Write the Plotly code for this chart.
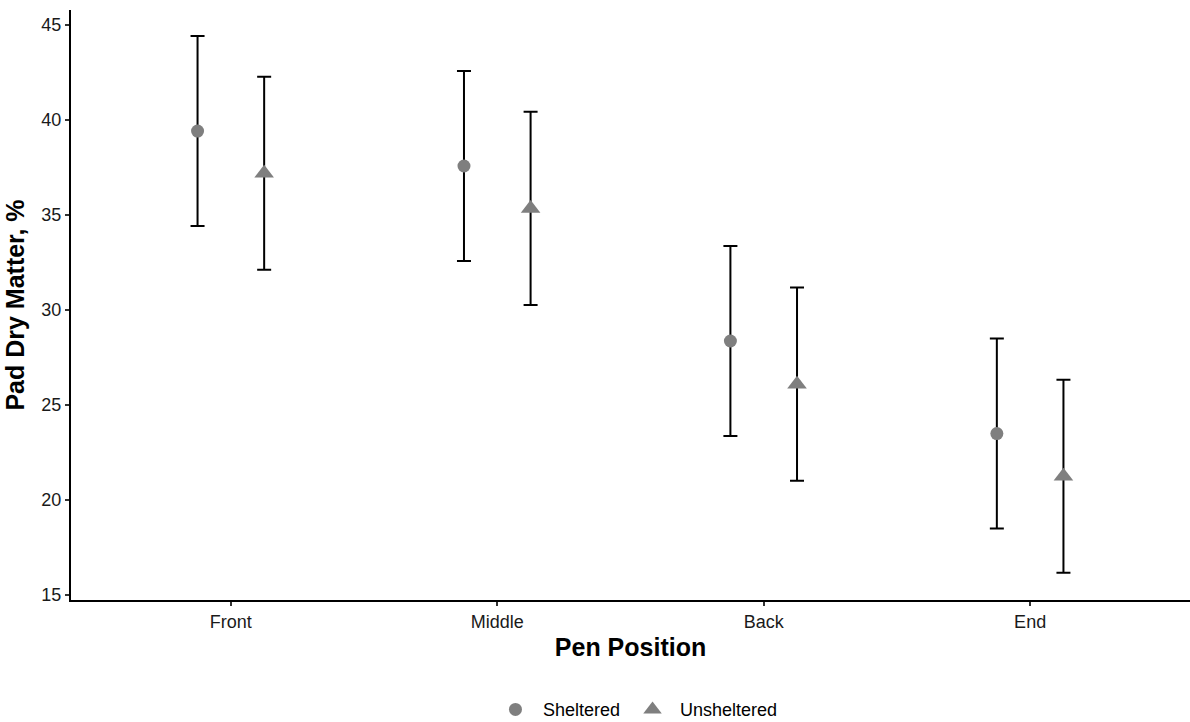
import plotly.graph_objects as go

positions = ["Front", "Middle", "Back", "End"]
sheltered_mean = [39.42, 37.58, 28.37, 23.50]
sheltered_se = [5.0, 5.0, 5.0, 5.0]
unsheltered_mean = [37.20, 35.35, 26.10, 21.25]
unsheltered_se = [5.08, 5.08, 5.08, 5.08]
y_ticks = [15, 20, 25, 30, 35, 40, 45]

dodge = 0.125
base_x = list(range(1, len(positions) + 1))
FONT = "Liberation Sans, Arial, sans-serif"

fig = go.Figure()

series = [
    ("Sheltered", sheltered_mean, sheltered_se, -dodge, "circle", 13),
    ("Unsheltered", unsheltered_mean, unsheltered_se, dodge, "triangle-up", 17),
]

for name, means, se, off, symbol, size in series:
    xs = [b + off for b in base_x]
    # error bars (separate trace so the marker sits on top)
    fig.add_trace(go.Scatter(
        x=xs, y=means, mode="markers",
        marker=dict(size=0.1, color="rgba(0,0,0,0)"),
        error_y=dict(type="data", array=se, visible=True,
                     color="black", thickness=2, width=7),
        showlegend=False, hoverinfo="skip",
    ))
    fig.add_trace(go.Scatter(
        x=xs, y=means, mode="markers", name=name,
        marker=dict(symbol=symbol, size=size, color="#7f7f7f",
                    line=dict(width=0)),
    ))

axis_font = dict(family=FONT, size=18, color="#1a1a1a")

fig.update_layout(
    width=1190, height=722,
    paper_bgcolor="white", plot_bgcolor="white",
    margin=dict(l=71, r=0, t=10, b=122),
    font=dict(family=FONT, color="black"),
    xaxis=dict(
        range=[0.4, 4.6], tickmode="array", tickvals=base_x, ticktext=positions,
        showgrid=False, zeroline=False, showline=True, linecolor="black", linewidth=2,
        ticks="outside", ticklen=4, tickwidth=1.5, tickcolor="#333333",
        tickfont=axis_font,
        title=dict(text="<b>Pen Position</b>", standoff=8,
                   font=dict(family=FONT, size=25, color="black")),
    ),
    yaxis=dict(
        range=[14.74, 45.79], tickmode="array", tickvals=y_ticks,
        showgrid=False, zeroline=False, showline=True, linecolor="black", linewidth=2,
        ticks="outside", ticklen=4, tickwidth=1.5, tickcolor="#333333",
        tickfont=axis_font,
        title=dict(text="<b>Pad Dry Matter, %</b>", standoff=10,
                   font=dict(family=FONT, size=25, color="black")),
    ),
    legend=dict(
        orientation="h", xref="container", yref="container",
        x=0.534, xanchor="center", y=0.017, yanchor="middle",
        font=dict(family=FONT, size=18, color="black"),
        itemsizing="trace", itemwidth=45,
    ),
)

fig.write_html("out.html")
